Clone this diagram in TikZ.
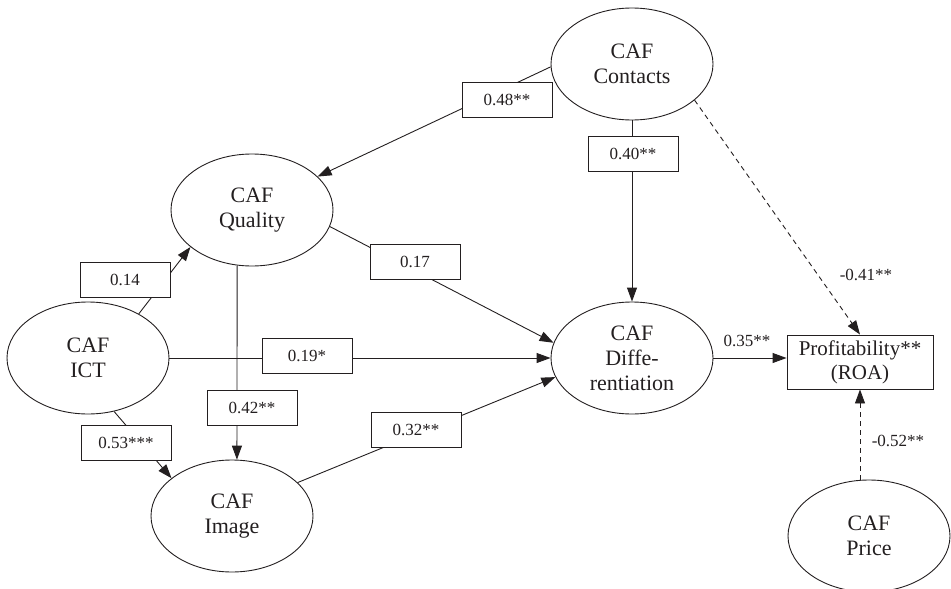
\documentclass[tikz,border=0pt]{standalone}
\usepackage{fontspec}
\setmainfont{Liberation Serif}
\usetikzlibrary{shapes.geometric,arrows.meta}
\definecolor{ink}{HTML}{231F20}
\begin{document}
\begin{tikzpicture}[x=1pt,y=-1pt,
  lat/.style={ellipse, draw=ink, line width=0.9pt, minimum width=162pt, minimum height=112pt, inner sep=0pt, align=center, text=ink, font=\fontsize{22}{25}\selectfont},
  coef/.style={draw=ink, line width=0.9pt, fill=white, minimum width=90pt, minimum height=35pt, inner sep=0pt, text=ink, font=\fontsize{17}{20}\selectfont},
  freelab/.style={inner sep=0pt, text=ink, font=\fontsize{17}{20}\selectfont},
  arr/.style={draw=ink, line width=0.9pt, -{Triangle[length=14pt,width=10pt]}},
  darr/.style={arr, dash pattern=on 5pt off 4pt}]
\useasboundingbox (0,0) rectangle (951,589);
% latent variables
\node[lat] (contacts) at (632,64) {CAF\\Contacts};
\node[lat] (quality) at (252,210) {CAF\\Quality};
\node[lat] (ict) at (88,358) {CAF\\ICT};
\node[lat] (image) at (232,516) {CAF\\Image};
\node[lat] (diff) at (632,358) {CAF\\Diffe-\\rentiation};
\node[lat] (price) at (869,536) {CAF\\Price};
\node[draw=ink, line width=0.9pt, minimum width=146pt, minimum height=54pt, inner sep=0pt, align=center, text=ink, font=\fontsize{21}{24}\selectfont] (profit) at (860,362) {Profitability**\\(ROA)};
% paths
\draw[arr] (contacts.182) -- (quality.27);
\draw[arr] (contacts.south) -- (diff.north);
\draw[darr] (contacts.330) -- (profit.north);
\draw[arr] (ict.41) -- (quality.211);
\draw[arr] (quality.348) -- (diff.169);
\draw[arr] (ict.east) -- (diff.west);
\draw[arr] (quality.255) -- (image.85);
\draw[arr] (ict.296) -- (image.148);
\draw[arr] (image.27) -- (diff.194);
\draw[arr] (diff.east) -- (diff.east -| profit.west);
\draw[darr] (price.north -| profit.south) -- (profit.south);
% coefficient boxes
\node[coef] (c48) at (507,100) {0.48**};
\node[coef] (c40) at (633,154) {0.40**};
\node[coef] (c14) at (125,280) {0.14};
\node[coef] (c17) at (415,262) {0.17};
\node[coef] (c19) at (307,356) {0.19*};
\node[coef] (c42) at (252,408) {0.42**};
\node[coef] (c53) at (126,443) {0.53***};
\node[coef] (c32) at (416,430) {0.32**};
% free labels
\node[freelab] (l35) at (747,341) {0.35**};
\node[freelab] (l41) at (866,275) {-0.41**};
\node[freelab] (l52) at (898,441) {-0.52**};
\end{tikzpicture}
\end{document}
